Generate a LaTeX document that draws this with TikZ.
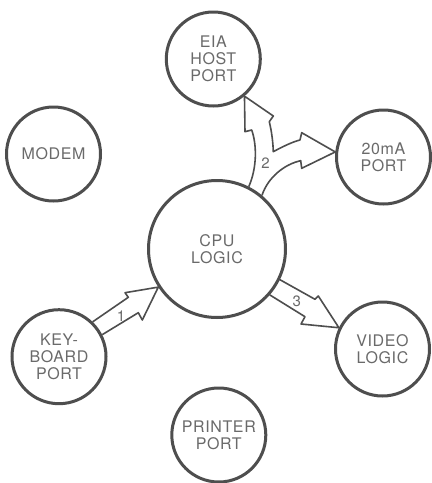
\documentclass[tikz,border=0pt]{standalone}
\usepackage{fontspec}
\setmainfont[LetterSpace=4]{TeX Gyre Heros}
\definecolor{ink}{HTML}{4E4E4E}
\definecolor{txt}{HTML}{6A6A6A}
\begin{document}
\begin{tikzpicture}[x=1pt,y=-1pt,
  port/.style={circle, draw=ink, line width=3pt, minimum size=94pt, inner sep=0pt,
    align=center, text=txt, font=\fontsize{16}{17}\selectfont},
  bigport/.style={port, minimum size=137pt},
  blockarrow/.style={draw=ink, line width=1.6pt, line join=round},
  num/.style={text=txt, font=\fontsize{15}{17}\selectfont, inner sep=0pt}]
\useasboundingbox (0,0) rectangle (432,483);
\fill[white] (0,0) rectangle (432,483);

\node[bigport] (cpu) at (217,249) {CPU\\LOGIC};
\node[port] (eia) at (213.3,59) {EIA\\HOST\\PORT};
\node[port] (modem) at (53.5,154) {MODEM};
\node[port] (ma) at (383.5,157) {20mA\\PORT};
\node[port] (kb) at (59,356.7) {KEY-\\BOARD\\PORT};
\node[port] (vid) at (382.5,349) {VIDEO\\LOGIC};
\node[port] (prn) at (218.8,435) {PRINTER\\PORT};

% arrow 1: keyboard -> CPU
\draw[blockarrow] (kb.46) -- (128.3,297.3) -- (125,292.7) -- (cpu.213)
  -- (142.3,320) -- (138.3,312.7) -- (kb.27);
\node[num] (l1) at (121,316.5) {1};

% arrow 3: CPU -> video
\draw[blockarrow] (cpu.-26) -- (315,299.3) -- (318.3,296) -- (vid.154)
  -- (301,324) -- (305,316.7) -- (cpu.-41);
\node[num] (l3) at (296.7,301.7) {3};

% arrow 2: CPU -> EIA host port and 20mA port (forked)
\draw[blockarrow] (cpu.63)
  .. controls (257,168) and (257,145) .. (251.7,130)
  -- (245,131.7) -- (eia.-50) -- (273.3,116) -- (269.3,121.7)
  .. controls (272,133) and (273,143) .. (273.3,151.7)
  .. controls (282,147) and (292,142) .. (300,140)
  -- (301.7,132.7) -- (ma.174) -- (301.7,168.3) -- (300.7,160.7)
  .. controls (285,164) and (268,177) .. (cpu.50);
\node[num] (l2) at (265.5,163) {2};
\end{tikzpicture}
\end{document}
